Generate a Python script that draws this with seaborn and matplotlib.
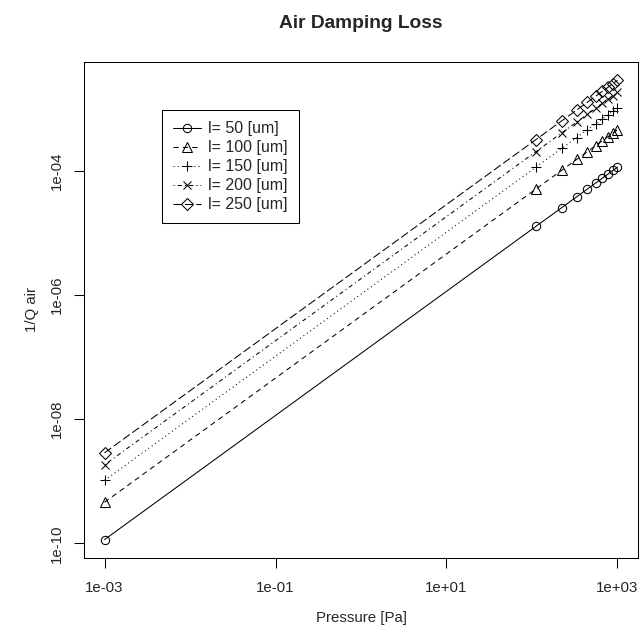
import matplotlib
matplotlib.use("Agg")
import matplotlib.pyplot as plt
import seaborn as sns
import pandas as pd

pressure = [0.001, 111.11, 222.22, 333.33, 444.44, 555.56, 666.67, 777.78, 888.89, 1000.0]
lengths = ["l= 50 [um]", "l= 100 [um]", "l= 150 [um]", "l= 200 [um]", "l= 250 [um]"]
q_l50 = [1.148e-10, 1.276e-5, 2.551e-5, 3.827e-5, 5.102e-5, 6.378e-5, 7.653e-5, 8.929e-5, 1.020e-4, 1.148e-4]
q_l100 = [4.59e-10, 5.10e-5, 1.020e-4, 1.531e-4, 2.041e-4, 2.551e-4, 3.061e-4, 3.572e-4, 4.082e-4, 4.592e-4]
q_l150 = [1.033e-9, 1.148e-4, 2.296e-4, 3.444e-4, 4.592e-4, 5.740e-4, 6.888e-4, 8.036e-4, 9.184e-4, 1.033e-3]
q_l200 = [1.837e-9, 2.041e-4, 4.082e-4, 6.123e-4, 8.164e-4, 1.0204e-3, 1.2245e-3, 1.4286e-3, 1.6327e-3, 1.837e-3]
q_l250 = [2.87e-9, 3.189e-4, 6.378e-4, 9.567e-4, 1.2756e-3, 1.5944e-3, 1.9133e-3, 2.2322e-3, 2.551e-3, 2.87e-3]
series = [q_l50, q_l100, q_l150, q_l200, q_l250]

sns.set_style("ticks")
plt.rcParams["font.family"] = ["Liberation Sans", "DejaVu Sans"]

fig = plt.figure(figsize=(6.42, 6.35), dpi=100)
ax = fig.add_axes([84 / 642, 1 - 558 / 635, (638 - 84) / 642, (558 - 62) / 635])

lw = 0.75
styles = [
    dict(marker="o", linestyle="-", markersize=6.0),
    dict(marker="^", linestyle=(0, (5, 4)), markersize=7.5),
    dict(marker="+", linestyle=(0, (1, 3)), markersize=7.5),
    dict(marker="x", linestyle=(0, (1, 3, 4, 3)), markersize=6.0),
    dict(marker="D", linestyle=(0, (8, 3)), markersize=6.3),
]

for lab, vals, st in zip(lengths, series, styles):
    df = pd.DataFrame({"Pressure": pressure, "Q": vals})
    sns.lineplot(data=df, x="Pressure", y="Q", ax=ax, color="black", linewidth=lw,
                 marker=st["marker"], linestyle=st["linestyle"], markersize=st["markersize"],
                 markerfacecolor="none", markeredgecolor="black", markeredgewidth=lw,
                 label=lab, legend=False)

ax.set_xscale("log")
ax.set_yscale("log")
ax.set_xlim(10 ** -3.24, 10 ** 3.24)
ax.set_ylim(10 ** -10.236, 10 ** -2.246)
ax.set_xticks([1e-3, 1e-1, 1e1, 1e3])
ax.set_xticklabels(["1e-03", "1e-01", "1e+01", "1e+03"])
ax.set_yticks([1e-10, 1e-8, 1e-6, 1e-4])
ax.set_yticklabels(["1e-10", "1e-08", "1e-06", "1e-04"], rotation=90, va="center")
ax.minorticks_off()
ax.tick_params(axis="both", length=7.2, width=lw, color="black", labelsize=10.8, direction="out")
ax.tick_params(axis="x", pad=9)
ax.tick_params(axis="y", pad=7)
for s in ax.spines.values():
    s.set_linewidth(lw)
    s.set_color("black")

ax.set_xlabel("Pressure [Pa]", fontsize=10.8, labelpad=12)
ax.set_ylabel("1/Q air", fontsize=10.8, labelpad=8)
ax.set_title("Air Damping Loss", fontsize=13.8, fontweight="bold", pad=24.5)

leg = ax.legend(loc="upper left", bbox_to_anchor=(0.1408, 0.903), borderaxespad=0,
                fontsize=11.5, handlelength=1.75, handletextpad=0.45, labelspacing=0.25,
                borderpad=0.7, fancybox=False, framealpha=1, edgecolor="black")
leg.get_frame().set_linewidth(lw)

fig.savefig("out.png", dpi=100)
